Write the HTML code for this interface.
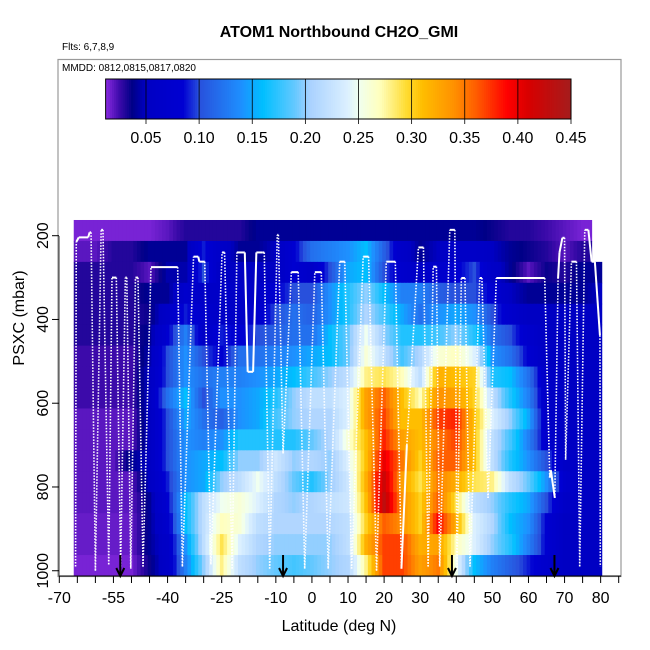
<!DOCTYPE html>
<html><head><meta charset="utf-8"><style>
html,body{margin:0;padding:0;background:#fff;}
svg{display:block;font-family:"Liberation Sans",sans-serif;}
</style></head><body>
<svg id="chart" width="650" height="650" viewBox="0 0 650 650">
<text x="339" y="37" text-anchor="middle" font-size="16" font-weight="bold">ATOM1 Northbound CH2O_GMI</text>
<text x="62" y="50" font-size="10">Flts: 6,7,8,9</text>
<rect x="58" y="59.5" width="563" height="517" fill="none" stroke="#999" stroke-width="1.2"/>
<text x="62" y="71" font-size="10">MMDD: 0812,0815,0817,0820</text>
<g id="cbar"></g>
<g id="heat"></g>
<g id="track"></g>
<g id="arrows"></g>
<g id="axes"></g>
<text x="339" y="631" text-anchor="middle" font-size="16">Latitude (deg N)</text>
<text transform="translate(24,318) rotate(-90)" text-anchor="middle" font-size="16">PSXC (mbar)</text>
</svg>
<script>
const lats = [-65,-60,-55,-50,-45,-40,-35,-30,-25,-20,-15,-10,-5,0,5,10,15,20,25,30,35,40,45,50,55,60,65,70,75,80];
const levels = [187.5,237.5,287.5,337.5,387.5,437.5,487.5,537.5,587.5,637.5,687.5,737.5,787.5,837.5,887.5,937.5,987.5];
const r0  = [.015,.015,.015,.015,.015,.02,.03,.03,.03,.03,.04,.04,.04,.04,.04,.04,.04,.04,.04,.04,.04,.04,.04,.035,.03,.03,.025,.02,.015,null];
const r1  = [.02,.02,.03,.03,.04,.04,.04,.09,.06,.04,.04,.05,.08,.12,.13,.14,.16,.11,.06,.04,.05,.06,.06,.05,.04,.035,.03,.02,.03,null];
const r2  = [.03,.03,.03,.03,.02,.045,.045,.1,.05,.05,.05,.05,.08,.06,.1,.15,.16,.1,.07,.06,.07,.08,.1,.06,.04,.02,.035,.03,.04,.04];
const r3  = [.03,.03,.03,.03,.04,.04,.07,.06,.06,.06,.06,.08,.1,.1,.14,.17,.2,.16,.13,.13,.11,.1,.1,.08,.05,.04,.04,.04,.04,.05];
const r4  = [.03,.03,.03,.03,.035,.06,.09,.07,.06,.06,.07,.1,.12,.11,.14,.17,.21,.18,.15,.12,.14,.15,.14,.1,.07,.05,.05,.05,.05,.05];
const r5  = [.03,.03,.03,.03,.04,.08,.13,.06,.09,.08,.1,.11,.12,.12,.16,.19,.25,.2,.17,.17,.18,.2,.17,.12,.1,.07,.05,.05,.05,.05];
const r6  = [.025,.025,.025,.025,.045,.1,.14,.1,.08,.12,.12,.13,.14,.15,.16,.19,.26,.22,.18,.21,.26,.27,.24,.14,.12,.08,.05,.05,.05,.05];
const r7  = [.025,.025,.025,.025,.05,.1,.14,.12,.13,.13,.14,.15,.16,.18,.2,.22,.28,.29,.27,.22,.32,.31,.3,.17,.16,.12,.06,.05,.05,.05];
const r8  = [.025,.025,.025,.025,.05,.12,.16,.1,.14,.14,.15,.17,.2,.22,.22,.24,.33,.36,.31,.27,.34,.33,.3,.22,.17,.13,.06,.05,.05,.05];
const r9  = [.02,.02,.02,.02,.05,.1,.15,.12,.11,.14,.15,.18,.2,.21,.21,.24,.33,.37,.31,.31,.37,.38,.31,.24,.2,.15,.06,.05,.05,.05];
const r10 = [.02,.02,.02,.02,.05,.1,.14,.13,.14,.17,.17,.17,.17,.19,.21,.26,.31,.38,.33,.31,.35,.37,.31,.22,.18,.13,.07,.05,.05,.05];
const r11 = [.02,.02,.02,.04,.05,.1,.14,.15,.16,.2,.2,.23,.2,.21,.2,.24,.31,.4,.35,.3,.36,.36,.31,.22,.17,.14,.1,.06,.05,.05];
const r12 = [.02,.02,.02,.02,.05,.09,.14,.15,.2,.22,.25,.22,.19,.17,.2,.23,.32,.42,.33,.29,.35,.32,.29,.28,.22,.19,.14,.07,.05,.05];
const r13 = [.02,.02,.02,.02,.04,.08,.16,.22,.25,.26,.24,.21,.2,.21,.22,.23,.31,.43,.34,.3,.36,.29,.22,.2,.17,.15,.1,.06,.05,.05];
const r14 = [.018,.018,.018,.018,.04,.07,.16,.22,.27,.26,.22,.21,.21,.21,.21,.22,.3,.36,.34,.3,.39,.32,.24,.21,.16,.14,.08,.05,.05,.05];
const r15 = [.018,.018,.018,.018,.04,.06,.14,.22,.29,.24,.21,.2,.2,.2,.2,.22,.32,.37,.37,.32,.33,.27,.24,.2,.17,.13,.08,.05,.05,.05];
const r16 = [.015,.015,.015,.015,.035,.06,.13,.2,.28,.22,.2,.19,.18,.19,.2,.21,.28,.37,.37,.33,.35,.25,.16,.13,.11,.09,.07,.05,.05,.05];
const grid = [r0,r1,r2,r3,r4,r5,r6,r7,r8,r9,r10,r11,r12,r13,r14,r15,r16];
const cbarTicks = ["0.05","0.10","0.15","0.20","0.25","0.30","0.35","0.40","0.45"];
const xTicks = [-70,-65,-60,-55,-50,-45,-40,-35,-30,-25,-20,-15,-10,-5,0,5,10,15,20,25,30,35,40,45,50,55,60,65,70,75,80,85];
const xLabels = [-70,-55,-40,-25,-10,0,10,20,30,40,50,60,70,80];
const yTicks = [200,400,600,800,1000];
const trackLat = [-65.5,-65.3,-64.6,-62,-61.6,-61.2,-60,-58.4,-57.9,-56.3,-55.4,-54.2,-53,-51.7,-51.3,-50.2,-48.9,-48.2,-46.8,-44.6,-37.2,-35.9,-32.8,-31.5,-31.2,-29.7,-28,-24.9,-24.2,-22.1,-20.8,-18.6,-17.8,-16.3,-15.4,-13.8,-13.2,-11.7,-9.6,-9.3,-8,-5.7,-3.8,-2,0.8,2.6,4.5,7.7,9.1,11,14.2,15.7,17.9,20.6,23.1,24.8,26.3,29.5,30.9,32.2,33.6,34.5,35.4,38.2,39.6,40.2,41.4,42.4,43.8,46.5,47.1,48.8,51.1,64.5,65.9,66.2,67.3,68.2,68.6,69.4,70,70.3,71.9,73.3,74.2,75.6,76.6,77.5,78.4,79.8,79.9];
const trackP   = [990,215,204,204,192,192,1000,186,186,985,300,300,990,300,300,995,300,300,990,275,275,990,250,250,262,262,985,240,240,995,240,240,525,525,240,240,240,995,198,198,720,287,287,995,287,287,995,262,262,995,250,250,1000,262,262,995,700,228,228,990,274,274,990,186,186,1000,301,301,990,301,301,826,301,301,778,760,826,301,240,205,205,735,262,262,990,186,186,262,262,438,990];
const arrowLats = [-53.1,-8,38.8,67.2];

const NS='http://www.w3.org/2000/svg';
function mk(tag,attrs,parent){const e=document.createElementNS(NS,tag);for(const k in attrs)e.setAttribute(k,attrs[k]);parent.appendChild(e);return e;}
const xOf = lat => 59.3 + (lat+70)*3.609;
const yOf = p => 235.7 + (p-200)*0.4188;
const stops=[[0.012,[138,43,226]],[0.025,[60,10,170]],[0.037,[0,0,135]],[0.05,[0,0,195]],[0.085,[0,0,210]],[0.1,[40,80,220]],[0.14,[30,144,255]],[0.16,[0,191,255]],[0.19,[100,200,255]],[0.205,[170,210,255]],[0.24,[220,240,255]],[0.25,[240,255,240]],[0.27,[255,255,190]],[0.295,[255,220,50]],[0.31,[255,190,0]],[0.34,[255,145,0]],[0.36,[255,95,0]],[0.39,[255,0,0]],[0.41,[215,0,0]],[0.45,[165,28,28]]];
function col(v){if(v<=stops[0][0])return 'rgb('+stops[0][1]+')';for(let i=1;i<stops.length;i++){if(v<=stops[i][0]){const a=stops[i-1],b=stops[i],t=(v-a[0])/(b[0]-a[0]);return 'rgb('+a[1].map((c,j)=>Math.round(c+(b[1][j]-c)*t)).join(',')+')';}}return 'rgb('+stops[stops.length-1][1]+')';}

// heatmap (cells shaded with sub-strips blending toward neighbours)
const heat=document.getElementById('heat');
const NSUB=5;
grid.forEach((row,ri)=>{
 const y0=yOf(levels[ri]-25),y1=yOf(levels[ri]+25);
 row.forEach((v,ci)=>{if(v===null)return;
  const g=mk('g',{},heat);
  
  
  const prev=(ci>0&&row[ci-1]!==null)?row[ci-1]:v;
  const next=(ci<row.length-1&&row[ci+1]!==null)?row[ci+1]:v;
  const lo=Math.max(lats[ci]-2.5,-66), hi=Math.min(lats[ci]+2.5,80.3);
  for(let s=0;s<NSUB;s++){
   const f=(s+0.5)/NSUB; // position within cell
   let val = f<0.5 ? prev+(v-prev)*(0.5+f) : v+(next-v)*(f-0.5);
   const la=lats[ci]-2.5+5*s/NSUB, lb=la+5/NSUB;
   const a=Math.max(la,lo), b=Math.min(lb,hi); if(b<=a)continue;
   mk('rect',{x:xOf(a).toFixed(2),y:y0.toFixed(2),width:(xOf(b)-xOf(a)+0.5).toFixed(2),height:(y1-y0+0.5).toFixed(2),fill:col(val)},g);
  }
 });
});

// colorbar
const cb=document.getElementById('cbar');
const cbX=v=>146+(v-0.05)*1062.5;
for(let v=0.012;v<0.45;v+=0.002){mk('rect',{x:cbX(v).toFixed(2),y:79,width:(0.002*1062.5+0.5).toFixed(2),height:40,fill:col(v+0.001)},cb);}
mk('rect',{x:cbX(0.012),y:79,width:cbX(0.45)-cbX(0.012),height:40,fill:'none',stroke:'#000','stroke-width':1},cb);
cbarTicks.forEach(t=>{const v=parseFloat(t),x=cbX(v);
 mk('line',{x1:x,x2:x,y1:79,y2:124,stroke:'#000','stroke-width':0.8},cb);
 const tx=mk('text',{x:x,y:143,'text-anchor':'middle','font-size':16},cb);tx.textContent=t;
 
 
});

// track
const tr=document.getElementById('track');
for(let i=1;i<trackLat.length;i++){
 const dp=Math.abs(trackP[i]-trackP[i-1]);
 const seg=mk('line',{x1:xOf(trackLat[i-1]).toFixed(2),y1:yOf(trackP[i-1]).toFixed(2),x2:xOf(trackLat[i]).toFixed(2),y2:yOf(trackP[i]).toFixed(2),stroke:'#fff','stroke-width':dp>300?1.6:2,'stroke-dasharray':dp>300?'1.5 1.5':'none'},tr);
 
 
}

// arrows
const ar=document.getElementById('arrows');
arrowLats.forEach(l=>{const x=xOf(l);
 const g=mk('g',{},ar);
 
 
 mk('line',{x1:x,x2:x,y1:555,y2:575,stroke:'#000','stroke-width':2},g);
 mk('polyline',{points:`${x-4},568 ${x},576 ${x+4},568`,fill:'none',stroke:'#000','stroke-width':2},g);
});

// axes
const ax=document.getElementById('axes');
mk('line',{x1:59,x2:621,y1:576,y2:576,stroke:'#000','stroke-width':1},ax);
mk('line',{x1:59,x2:59,y1:236,y2:576,stroke:'#333','stroke-width':1},ax);
xTicks.forEach(t=>{const x=xOf(t);mk('line',{x1:x,x2:x,y1:576,y2:583,stroke:'#000','stroke-width':1},ax);});
xLabels.forEach(t=>{const tx=mk('text',{x:xOf(t),y:603,'text-anchor':'middle','font-size':16},ax);tx.textContent=t;
 
 });
yTicks.forEach(t=>{const y=yOf(t);mk('line',{x1:52,x2:59,y1:y,y2:y,stroke:'#000','stroke-width':1},ax);
 const tx=mk('text',{transform:`translate(48,${y}) rotate(-90)`,'text-anchor':'middle','font-size':16},ax);tx.textContent=t;
 
 });
</script>
</body></html>
